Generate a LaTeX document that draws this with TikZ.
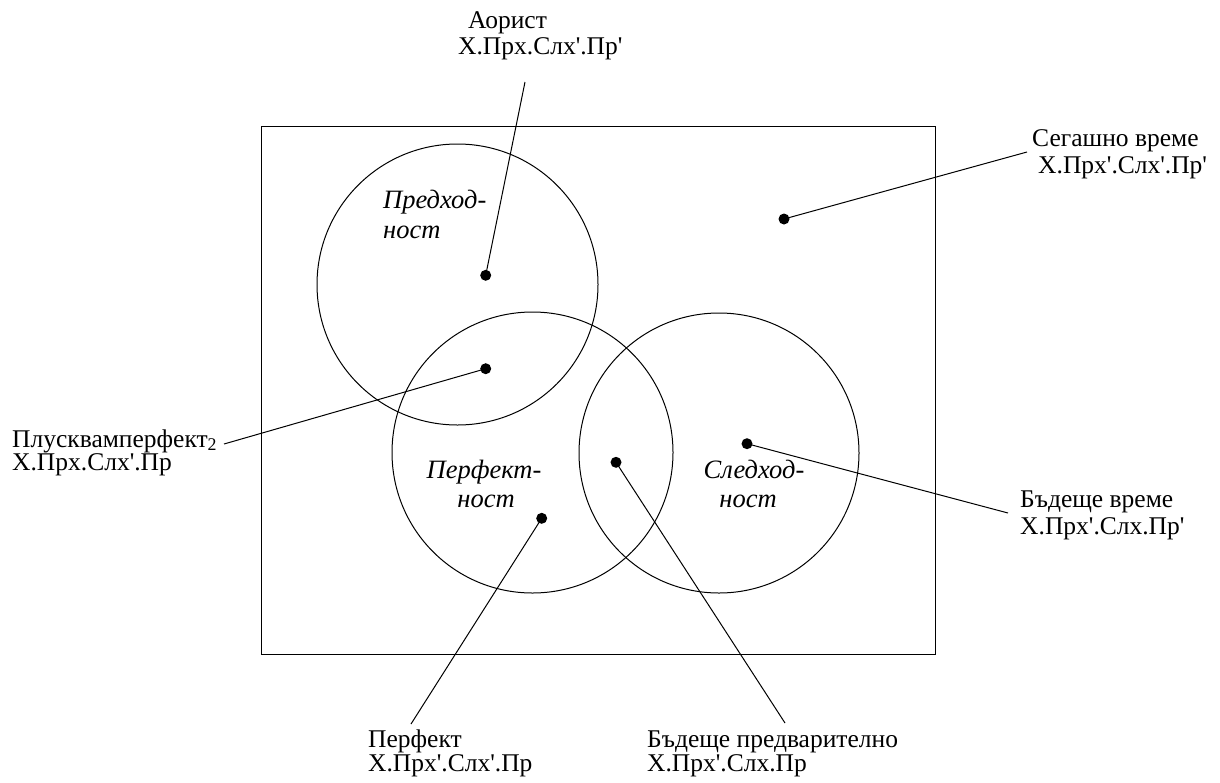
\documentclass[tikz,border=0pt]{standalone}
\usepackage{fontspec}
\setmainfont{Liberation Serif}
\newcommand\sq{\XeTeXglyph\XeTeXcharglyph"27\relax}
\begin{document}
\begin{tikzpicture}[x=1pt,y=-1pt,
  lbl/.style={font=\fontsize{25.5}{25}\selectfont, inner sep=0pt, align=left, anchor=base west},
  itl/.style={font=\fontsize{26.5}{29}\selectfont\itshape, inner sep=0pt, anchor=base},
  ring/.style={circle, draw, line width=1pt, inner sep=0pt},
  dotnode/.style={circle, fill=black, inner sep=0pt, minimum size=11pt},
  conn/.style={line width=1pt}]
\useasboundingbox (0,0) rectangle (1220,782);
\node[draw, line width=1.3pt, minimum width=674pt, minimum height=528pt, inner sep=0pt, anchor=north west] (frame) at (261,126) {};
\node[ring, minimum size=281pt] (c1) at (457.5,284.5) {};
\node[ring, minimum size=281pt] (c2) at (532.5,452.5) {};
\node[ring, minimum size=280pt] (c3) at (719,453) {};
% italic region labels
\node[itl, anchor=base west] (t1a) at (383,208) {Предход-};
\node[itl, anchor=base west] (t1b) at (383,238) {ност};
\node[itl] (t2a) at (484,478) {Перфект-};
\node[itl] (t2b) at (486,507) {ност};
\node[itl] (t3a) at (754,478) {Следход-};
\node[itl] (t3b) at (748,507) {ност};
% dots
\node[dotnode] (daor) at (485.7,275.3) {};
\node[dotnode] (dplq) at (485.7,368.7) {};
\node[dotnode] (dperf) at (541.7,518.3) {};
\node[dotnode] (dfp) at (616,462.3) {};
\node[dotnode] (dfut) at (747,443.7) {};
\node[dotnode] (dpres) at (784,219) {};
% free ends
\coordinate (eaor) at (525,82);
\coordinate (epres) at (1027,152);
\coordinate (eplq) at (224,444);
\coordinate (efut) at (1008,513);
\coordinate (eperf) at (411,724);
\coordinate (efp) at (785,723);
\draw[conn] (daor.center) -- (eaor);
\draw[conn] (dpres.center) -- (epres);
\draw[conn] (dplq.center) -- (eplq);
\draw[conn] (dfut.center) -- (efut);
\draw[conn] (dperf.center) -- (eperf);
\draw[conn] (dfp.center) -- (efp);
% labels (anchor = baseline of the last line)
\node[lbl] (laor) at (458,54) {\hspace*{10pt}Аорист\\[1pt]X.Прх.Слх\sq.Пр\sq};
\node[lbl] (lpres) at (1032,173) {Сегашно време\\[2pt]\hspace*{6pt}X.Прх\sq.Слх\sq.Пр\sq};
\node[lbl] (lplq) at (12,470) {Плусквамперфект\textsubscript{2}\\[-2pt]X.Прх.Слх\sq.Пр};
\node[lbl] (lfut) at (1020,534) {Бъдеще време\\[2pt]X.Прх\sq.Слх.Пр\sq};
\node[lbl] (lperf) at (368,771) {Перфект\\[-1pt]X.Прх\sq.Слх\sq.Пр};
\node[lbl] (lfp) at (647,771) {Бъдеще предварително\\[-1pt]X.Прх\sq.Слх.Пр};
\end{tikzpicture}
\end{document}
